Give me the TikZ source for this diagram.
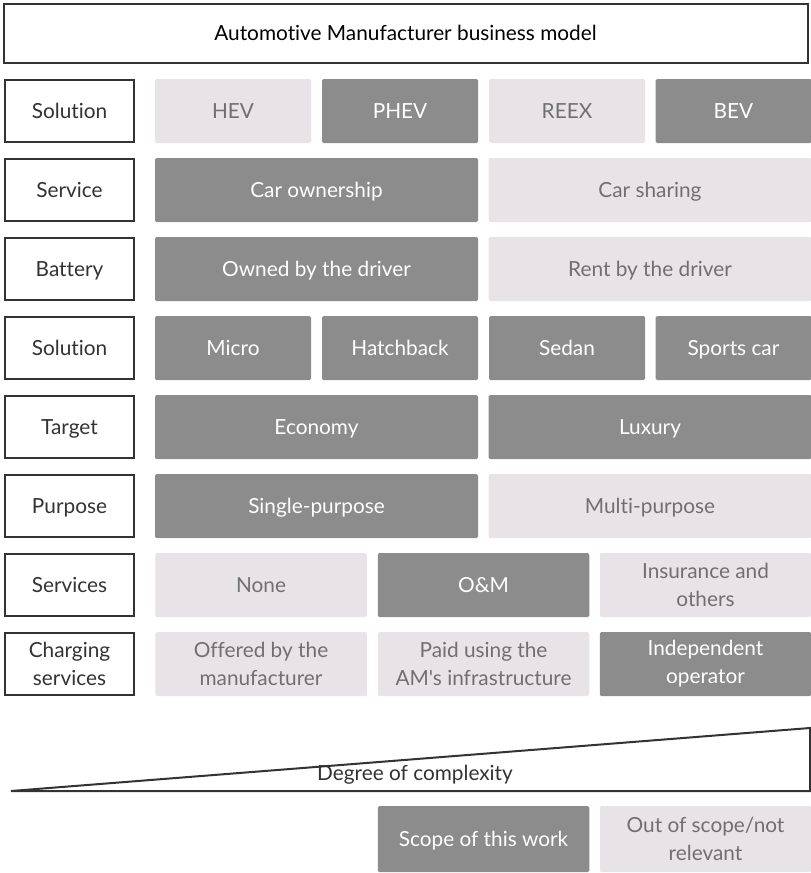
\documentclass[tikz,border=0pt]{standalone}
\usepackage{fontspec}
\setmainfont{Lato}[Ligatures={TeXOff,NoCommon}]
\definecolor{darkcell}{HTML}{8C8C8C}
\definecolor{lightcell}{HTML}{E7E3E6}
\definecolor{lighttext}{HTML}{707070}
\definecolor{labeltext}{HTML}{333333}
\definecolor{edge}{HTML}{333333}
\begin{document}
\begin{tikzpicture}[x=1pt,y=-1pt,
  every node/.style={font=\fontsize{20.8}{28}\selectfont, align=center, inner sep=0pt, outer sep=0pt, text height=16pt, text depth=1pt},
  multi/.style={text height={}, text depth={}},
  lbl/.style={draw=edge, line width=2.5pt, fill=white, text=labeltext, minimum width=129pt, minimum height=62pt},
  dcell/.style={fill=darkcell, text=white, rounded corners=1.5pt, minimum height=64pt},
  lcell/.style={fill=lightcell, text=lighttext, rounded corners=1.5pt, minimum height=64pt},
  qw/.style={minimum width=156pt},
  hw/.style={minimum width=323pt},
  tw/.style={minimum width=211.5pt}]
\useasboundingbox (0,0) rectangle (811,873);
\node[draw=edge, line width=2pt, minimum width=804pt, minimum height=59pt, text=black] (title) at (405.5,33) {Automotive Manufacturer business model};
% row 1
\node[lbl] (l1) at (69.5,111) {Solution};
\node[lcell,qw] (hev) at (233,111) {HEV};
\node[dcell,qw] (phev) at (400,111) {PHEV};
\node[lcell,qw] (reex) at (567,111) {REEX};
\node[dcell,qw] (bev) at (733.5,111) {BEV};
% row 2
\node[lbl] (l2) at (69.5,190) {Service};
\node[dcell,hw] (own) at (316.5,190) {Car ownership};
\node[lcell,hw] (share) at (650,190) {Car sharing};
% row 3
\node[lbl] (l3) at (69.5,269) {Battery};
\node[dcell,hw] (bown) at (316.5,269) {Owned by the driver};
\node[lcell,hw] (brent) at (650,269) {Rent by the driver};
% row 4
\node[lbl] (l4) at (69.5,348) {Solution};
\node[dcell,qw] (micro) at (233,348) {Micro};
\node[dcell,qw] (hatch) at (400,348) {Hatchback};
\node[dcell,qw] (sedan) at (567,348) {Sedan};
\node[dcell,qw] (sports) at (733.5,348) {Sports car};
% row 5
\node[lbl] (l5) at (69.5,427) {Target};
\node[dcell,hw] (eco) at (316.5,427) {Economy};
\node[dcell,hw] (lux) at (650,427) {Luxury};
% row 6
\node[lbl] (l6) at (69.5,506) {Purpose};
\node[dcell,hw] (single) at (316.5,506) {Single-purpose};
\node[lcell,hw] (multi) at (650,506) {Multi-purpose};
% row 7
\node[lbl] (l7) at (69.5,585) {Services};
\node[lcell,tw] (none) at (261,585) {None};
\node[dcell,tw] (om) at (483.5,585) {O\&M};
\node[lcell,tw,multi] (ins) at (705.5,585) {Insurance and\\others};
% row 8
\node[lbl,multi] (l8) at (69.5,664) {Charging\\services};
\node[lcell,tw,multi] (offered) at (261,664) {Offered by the\\manufacturer};
\node[lcell,tw,multi] (paid) at (483.5,664) {Paid using the\\AM's infrastructure};
\node[dcell,tw,multi] (indep) at (705.5,664) {Independent\\operator};
% triangle
\coordinate (tl) at (11,791);
\coordinate (tr) at (810,728);
\coordinate (br) at (810,791);
\draw[edge, line width=2pt, line join=miter] (tl) -- (tr) -- (br) -- cycle;
\node[text=labeltext] (deg) at (415,773) {Degree of complexity};
% legend
\node[dcell,tw,minimum height=66pt] (scope) at (483.5,839) {Scope of this work};
\node[lcell,tw,multi,minimum height=66pt] (oos) at (705.5,839) {Out of scope/not\\relevant};
\end{tikzpicture}
\end{document}
